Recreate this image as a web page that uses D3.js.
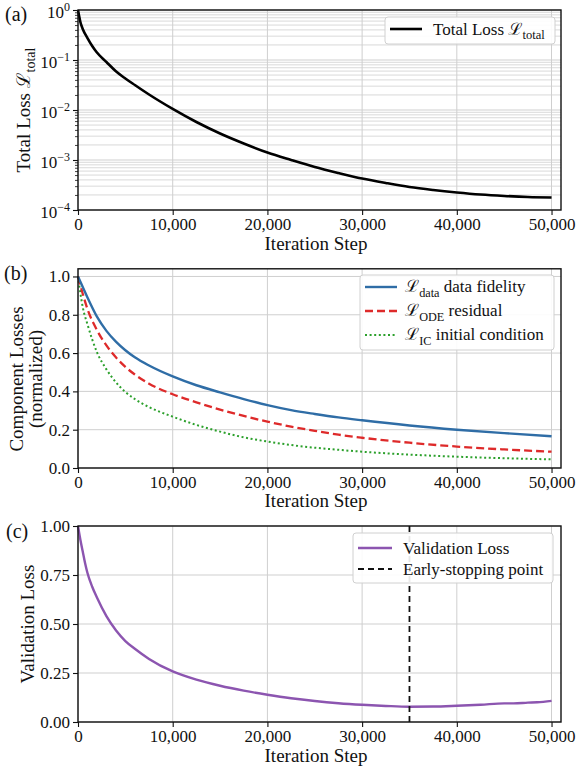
<!DOCTYPE html>
<html>
<head>
<meta charset="utf-8">
<script src="https://cdn.jsdelivr.net/npm/d3@7"></script>
<style>
  html, body { margin: 0; padding: 0; background: #fff; }
  svg { display: block; }
  text { font-family: "Liberation Serif", "Times New Roman", Times, Tinos, "Nimbus Roman", "DejaVu Serif", "Noto Serif", serif; fill: #111; }
</style>
</head>
<body>
<svg id="chart" width="578" height="773"></svg>
<script>
// ---------------- DATA ----------------
const xTicks = [0, 10000, 20000, 30000, 40000, 50000];

// Panel (a): total loss (log scale)
const stepsA = [0, 100, 250, 500, 1000, 1500, 2000, 3000, 4000, 5000, 6000, 7500, 10000, 12500, 15000, 17500, 20000, 22500, 25000, 27500, 30000, 32500, 35000, 37500, 40000, 42500, 45000, 47500, 50000];
const totalLoss = [1.0, 0.79, 0.575, 0.417, 0.275, 0.191, 0.141, 0.0912, 0.0596, 0.0427, 0.0316, 0.0204, 0.0105, 0.00575, 0.00339, 0.00214, 0.00141, 0.001, 0.000724, 0.00055, 0.000427, 0.000347, 0.000288, 0.000251, 0.000224, 0.000204, 0.000191, 0.000182, 0.000178];
const logTicks = [1e-4, 1e-3, 1e-2, 1e-1, 1];
const logTickExp = ["−4", "−3", "−2", "−1", "0"];

// Panel (b): component losses (normalized)
const stepsB = [0, 500, 1000, 2000, 3000, 4000, 5000, 6000, 7500, 10000, 12500, 15000, 17500, 20000, 22500, 25000, 27500, 30000, 35000, 40000, 45000, 50000];
const dataLoss = [1.0, 0.945, 0.89, 0.79, 0.716, 0.66, 0.615, 0.578, 0.535, 0.478, 0.432, 0.395, 0.36, 0.328, 0.302, 0.282, 0.264, 0.249, 0.222, 0.2, 0.182, 0.166];
const odeLoss  = [1.0, 0.91, 0.83, 0.72, 0.64, 0.578, 0.528, 0.488, 0.44, 0.385, 0.343, 0.305, 0.272, 0.242, 0.216, 0.194, 0.174, 0.158, 0.132, 0.112, 0.097, 0.085];
const icLoss   = [1.0, 0.84, 0.75, 0.605, 0.515, 0.448, 0.397, 0.36, 0.318, 0.268, 0.225, 0.19, 0.16, 0.138, 0.12, 0.106, 0.095, 0.085, 0.07, 0.059, 0.051, 0.045];
const yTicksB = [0, 0.2, 0.4, 0.6, 0.8, 1.0];

// Panel (c): validation loss
const stepsC = [0, 250, 500, 750, 1000, 1500, 2000, 3000, 4000, 5000, 6000, 7500, 10000, 12500, 15000, 17500, 20000, 22500, 25000, 27500, 30000, 32500, 35000, 37500, 40000, 42500, 45000, 46000, 47500, 48500, 50000];
const valLoss = [1.0, 0.93, 0.87, 0.81, 0.76, 0.69, 0.635, 0.54, 0.468, 0.413, 0.374, 0.322, 0.258, 0.216, 0.185, 0.16, 0.139, 0.121, 0.107, 0.096, 0.088, 0.082, 0.078, 0.079, 0.083, 0.088, 0.095, 0.095, 0.099, 0.101, 0.108];
const earlyStop = 35000;
const yTicksC = [0, 0.25, 0.5, 0.75, 1.0];

// ---------------- DRAW ----------------
const svg = d3.select("#chart");
const X0 = 78, X1 = 561;
const x = d3.scaleLinear().domain([0, 51000]).range([X0, X1]);
const gridColor = "#cfcfcf";
const fmtX = d3.format(",");
const FONT = '"Liberation Serif", "Times New Roman", Times, Tinos, "Nimbus Roman", "DejaVu Serif", serif';

function frame(g, top, bottom) {
  g.append("rect").attr("x", X0).attr("y", top).attr("width", X1 - X0).attr("height", bottom - top)
    .attr("fill", "none").attr("stroke", "#111").attr("stroke-width", 1.4);
}
function vgrid(g, top, bottom) {
  g.selectAll(null).data(xTicks).enter().append("line")
    .attr("x1", d => x(d)).attr("x2", d => x(d)).attr("y1", top).attr("y2", bottom)
    .attr("stroke", gridColor).attr("stroke-width", 1);
}
function styleAxis(ax) {
  ax.attr("font-family", FONT);
  ax.select(".domain").remove();
  ax.selectAll("line").attr("stroke", "#111").attr("stroke-width", 1.1);
  ax.selectAll("text").attr("font-size", 17).attr("fill", "#111");
}
function xAxis(g, bottom) {
  const ax = g.append("g").attr("transform", `translate(0,${bottom})`)
    .call(d3.axisBottom(x).tickValues(xTicks).tickFormat(fmtX).tickSize(5).tickPadding(3));
  styleAxis(ax);
}
function xTitle(g, y) {
  g.append("text").attr("x", 316).attr("y", y).attr("text-anchor", "middle").attr("font-size", 19).text("Iteration Step");
}
function panelLabel(g, txt, xx, yy) {
  g.append("text").attr("x", xx).attr("y", yy).attr("font-size", 20).text(txt);
}
function legendBox(g, x0, y0, w, h) {
  g.append("rect").attr("x", x0).attr("y", y0).attr("width", w).attr("height", h).attr("rx", 3)
    .attr("fill", "rgba(255,255,255,0.9)").attr("stroke", "#d0d0d0").attr("stroke-width", 1);
}
function subText(g, xx, yy, sub, rest, size) {
  const t = g.append("text").attr("x", xx).attr("y", yy).attr("font-size", size);
  t.append("tspan").text("ℒ");
  t.append("tspan").attr("font-size", size * 0.72).attr("dy", size * 0.28).text(sub);
  t.append("tspan").attr("dy", -size * 0.28).text(rest);
  return t;
}

// ===== Panel (a) =====
(function () {
  const top = 10, bottom = 210;
  const g = svg.append("g");
  const y = d3.scaleLog().domain([1e-4, 1]).range([bottom, top]);
  const minor = [];
  for (let e = -4; e < 0; e++) for (let m = 2; m <= 9; m++) minor.push(m * Math.pow(10, e));
  g.selectAll(null).data(minor).enter().append("line")
    .attr("x1", X0).attr("x2", X1).attr("y1", d => y(d)).attr("y2", d => y(d))
    .attr("stroke", gridColor).attr("stroke-width", 0.8);
  g.selectAll(null).data(logTicks).enter().append("line")
    .attr("x1", X0).attr("x2", X1).attr("y1", d => y(d)).attr("y2", d => y(d))
    .attr("stroke", gridColor).attr("stroke-width", 1);
  vgrid(g, top, bottom);

  const line = d3.line().x((d, i) => x(stepsA[i])).y(d => y(d)).curve(d3.curveMonotoneX);
  g.append("path").datum(totalLoss).attr("d", line).attr("fill", "none").attr("stroke", "#000").attr("stroke-width", 2.6);

  const ay = g.append("g").attr("transform", `translate(${X0},0)`)
    .call(d3.axisLeft(y).tickValues(logTicks).tickFormat("").tickSize(5));
  ay.select(".domain").remove();
  ay.selectAll("line").attr("stroke", "#111").attr("stroke-width", 1.1);
  const am = g.append("g").attr("transform", `translate(${X0},0)`)
    .call(d3.axisLeft(y).tickValues(minor).tickFormat("").tickSize(3));
  am.select(".domain").remove();
  am.selectAll("line").attr("stroke", "#111").attr("stroke-width", 0.8);
  logTicks.forEach((v, i) => {
    const t = g.append("text").attr("x", 70).attr("y", y(v) + 7.5).attr("text-anchor", "end").attr("font-size", 17);
    t.append("tspan").text("10");
    t.append("tspan").attr("font-size", 12).attr("dy", -7).text(logTickExp[i]);
  });
  xAxis(g, bottom);
  frame(g, top, bottom);
  xTitle(g, 250);
  panelLabel(g, "(a)", 5, 21);

  const yt = g.append("text").attr("transform", `translate(30,${(top + bottom) / 2}) rotate(-90)`)
    .attr("text-anchor", "middle").attr("font-size", 19);
  yt.append("tspan").text("Total Loss ℒ");
  yt.append("tspan").attr("font-size", 14).attr("dy", 5).text("total");

  legendBox(g, 385, 17, 170, 27);
  g.append("line").attr("x1", 390).attr("x2", 422).attr("y1", 29).attr("y2", 29).attr("stroke", "#000").attr("stroke-width", 2.6);
  const lt = g.append("text").attr("x", 433).attr("y", 35).attr("font-size", 17);
  lt.append("tspan").text("Total Loss ℒ");
  lt.append("tspan").attr("font-size", 12.5).attr("dy", 4).text("total");
})();

// ===== Panel (b) =====
(function () {
  const top = 268.8, bottom = 468;
  const g = svg.append("g");
  const y = d3.scaleLinear().domain([0, 1.04]).range([bottom, top]);
  g.selectAll(null).data(yTicksB).enter().append("line")
    .attr("x1", X0).attr("x2", X1).attr("y1", d => y(d)).attr("y2", d => y(d))
    .attr("stroke", gridColor).attr("stroke-width", 1);
  vgrid(g, top, bottom);

  const mk = arr => d3.line().x((d, i) => x(stepsB[i])).y(d => y(d)).curve(d3.curveMonotoneX)(arr);
  g.append("path").attr("d", mk(icLoss)).attr("fill", "none").attr("stroke", "#2ca02c").attr("stroke-width", 2).attr("stroke-dasharray", "2,2.6");
  g.append("path").attr("d", mk(odeLoss)).attr("fill", "none").attr("stroke", "#de2a2a").attr("stroke-width", 2.3).attr("stroke-dasharray", "8,4");
  g.append("path").attr("d", mk(dataLoss)).attr("fill", "none").attr("stroke", "#2f6da6").attr("stroke-width", 2.4);

  const ay = g.append("g").attr("transform", `translate(${X0},0)`)
    .call(d3.axisLeft(y).tickValues(yTicksB).tickFormat(d3.format(".1f")).tickSize(5).tickPadding(3));
  styleAxis(ay);
  xAxis(g, bottom);
  frame(g, top, bottom);
  xTitle(g, 507);
  panelLabel(g, "(b)", 4, 280);

  g.append("text").attr("transform", `translate(23,379) rotate(-90)`).attr("text-anchor", "middle").attr("font-size", 19).text("Component Losses");
  g.append("text").attr("transform", `translate(42,379) rotate(-90)`).attr("text-anchor", "middle").attr("font-size", 19).text("(normalized)");

  legendBox(g, 360, 275, 194, 75);
  const rows = [287, 311, 335];
  g.append("line").attr("x1", 365).attr("x2", 397).attr("y1", rows[0]).attr("y2", rows[0]).attr("stroke", "#2f6da6").attr("stroke-width", 2.4);
  g.append("line").attr("x1", 365).attr("x2", 397).attr("y1", rows[1]).attr("y2", rows[1]).attr("stroke", "#de2a2a").attr("stroke-width", 2.3).attr("stroke-dasharray", "8,4");
  g.append("line").attr("x1", 365).attr("x2", 397).attr("y1", rows[2]).attr("y2", rows[2]).attr("stroke", "#2ca02c").attr("stroke-width", 2).attr("stroke-dasharray", "2,2.6");
  subText(g, 405, rows[0] + 5, "data", " data fidelity", 17);
  subText(g, 405, rows[1] + 5, "ODE", " residual", 17);
  subText(g, 405, rows[2] + 5, "IC", " initial condition", 17);
})();

// ===== Panel (c) =====
(function () {
  const top = 526, bottom = 722;
  const g = svg.append("g");
  const y = d3.scaleLinear().domain([0, 1]).range([bottom, top]);
  g.selectAll(null).data(yTicksC).enter().append("line")
    .attr("x1", X0).attr("x2", X1).attr("y1", d => y(d)).attr("y2", d => y(d))
    .attr("stroke", gridColor).attr("stroke-width", 1);
  vgrid(g, top, bottom);

  const line = d3.line().x((d, i) => x(stepsC[i])).y(d => y(d)).curve(d3.curveMonotoneX);
  g.append("path").datum(valLoss).attr("d", line).attr("fill", "none").attr("stroke", "#8c55b0").attr("stroke-width", 2.4);
  g.append("line").attr("x1", x(earlyStop)).attr("x2", x(earlyStop)).attr("y1", top).attr("y2", bottom)
    .attr("stroke", "#111").attr("stroke-width", 1.8).attr("stroke-dasharray", "6,4");

  const ay = g.append("g").attr("transform", `translate(${X0},0)`)
    .call(d3.axisLeft(y).tickValues(yTicksC).tickFormat(d3.format(".2f")).tickSize(5).tickPadding(3));
  styleAxis(ay);
  xAxis(g, bottom);
  frame(g, top, bottom);
  xTitle(g, 762);
  panelLabel(g, "(c)", 6, 538);

  g.append("text").attr("transform", `translate(34,${(top + bottom) / 2}) rotate(-90)`).attr("text-anchor", "middle").attr("font-size", 19).text("Validation Loss");

  legendBox(g, 353, 533, 200, 50);
  g.append("line").attr("x1", 358).attr("x2", 392).attr("y1", 548).attr("y2", 548).attr("stroke", "#8c55b0").attr("stroke-width", 2.4);
  g.append("line").attr("x1", 358).attr("x2", 392).attr("y1", 569).attr("y2", 569).attr("stroke", "#111").attr("stroke-width", 1.8).attr("stroke-dasharray", "6,4");
  g.append("text").attr("x", 403).attr("y", 554).attr("font-size", 17).text("Validation Loss");
  g.append("text").attr("x", 403).attr("y", 575).attr("font-size", 17).text("Early-stopping point");
})();
</script>
</body>
</html>
